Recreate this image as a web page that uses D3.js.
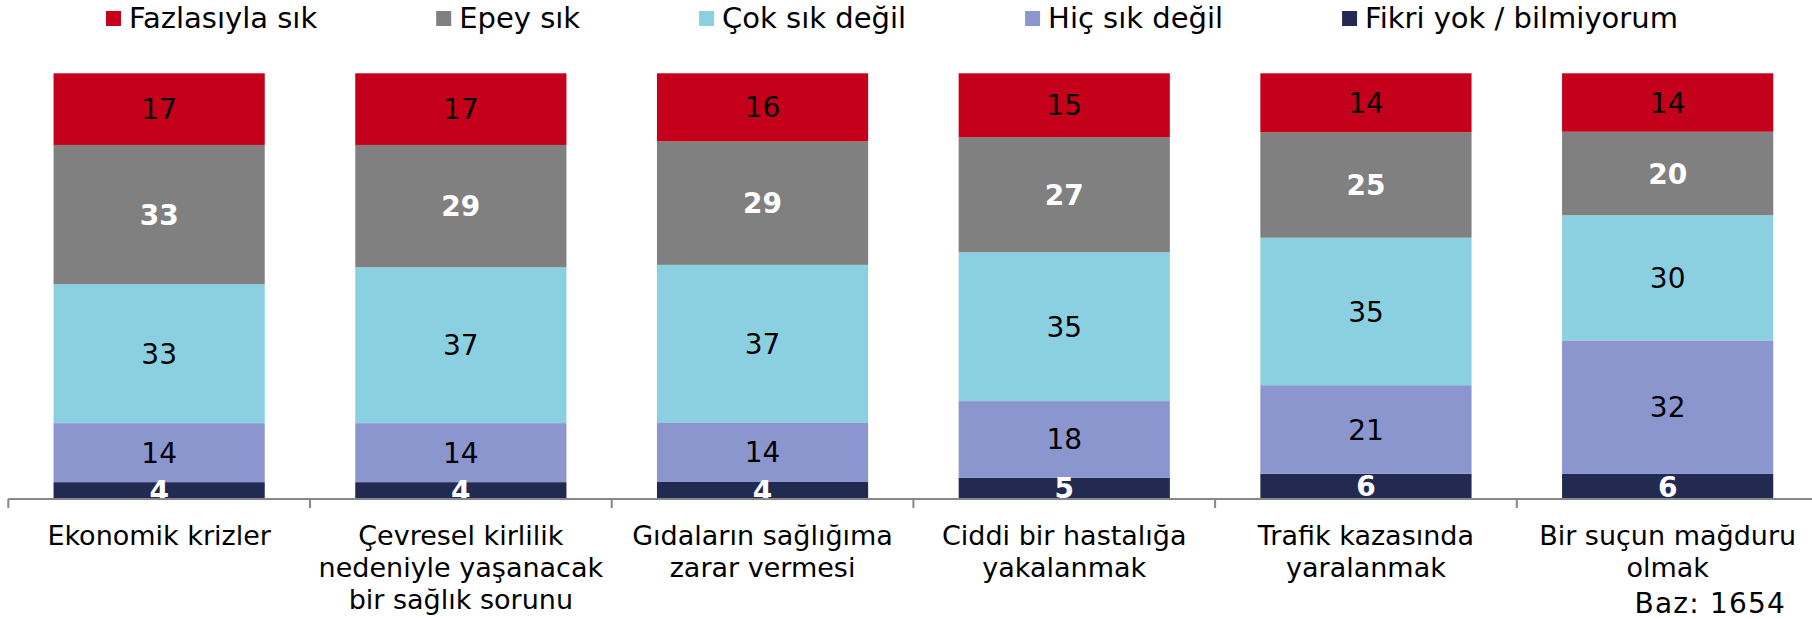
<!DOCTYPE html>
<html>
<head>
<meta charset="utf-8">
<script src="https://cdn.jsdelivr.net/npm/d3@7"></script>
<style>
  body { margin: 0; background: #fff; }
  svg { display: block; font-family: "DejaVu Sans", Verdana, sans-serif; }
</style>
</head>
<body>
<svg class="mainChart" width="1812" height="619"></svg>
<script>
// veriler
var categories = [
  ["Ekonomik krizler"],
  ["Çevresel kirlilik", "nedeniyle yaşanacak", "bir sağlık sorunu"],
  ["Gıdaların sağlığıma", "zarar vermesi"],
  ["Ciddi bir hastalığa", "yakalanmak"],
  ["Trafik kazasında", "yaralanmak"],
  ["Bir suçun mağduru", "olmak"]
];
var seriesNames = ["Fazlasıyla sık", "Epey sık", "Çok sık değil", "Hiç sık değil", "Fikri yok / bilmiyorum"];
var fazlasiyla = [17, 17, 16, 15, 14, 14];
var epey = [33, 29, 29, 27, 25, 20];
var cokDegil = [33, 37, 37, 35, 35, 30];
var hicDegil = [14, 14, 14, 18, 21, 32];
var fikriYok = [4, 4, 4, 5, 6, 6];
var colors = ["#c5001a", "#808080", "#8bd0e0", "#8b96ce", "#232a52"];
var labelColors = ["#000", "#fff", "#000", "#000", "#fff"];
var labelWeights = ["normal", "bold", "normal", "normal", "bold"];
var baseNote = "Baz: 1654";

var seriesValues = [fazlasiyla, epey, cokDegil, hicDegil, fikriYok];
// alttan üste yığılacak sıra
var stackKeys = [4, 3, 2, 1, 0];

var rows = categories.map(function(c, i){
  var r = {idx: i};
  seriesValues.forEach(function(arr, k){ r[k] = arr[i]; });
  return r;
});

var svg = d3.select(".mainChart");
var axisY = 499, topY = 73.3;

var x = d3.scaleBand()
          .domain(d3.range(categories.length))
          .range([8.3, 8.3 + 6 * 301.7])
          .paddingInner(0.3)
          .paddingOuter(0.15);

var y = d3.scaleLinear()
          .domain([0, 1])
          .range([axisY, topY]);

var stacked = d3.stack()
                .keys(stackKeys)
                .offset(d3.stackOffsetExpand)(rows);

svg.append("defs").append("clipPath")
   .attr("id", "plotClip")
   .append("rect")
   .attr("x", 0).attr("y", 0)
   .attr("width", 1812).attr("height", axisY);

var plot = svg.append("g").attr("clip-path", "url(#plotClip)");

stacked.forEach(function(layer){
  var k = layer.key;
  var g = plot.append("g").attr("class", "series s" + k);
  g.selectAll("rect")
   .data(layer)
   .enter().append("rect")
   .attr("x", function(d, i){ return x(i); })
   .attr("width", x.bandwidth())
   .attr("y", function(d){ return y(d[1]); })
   .attr("height", function(d){ return y(d[0]) - y(d[1]); })
   .attr("fill", colors[k]);
});

stacked.forEach(function(layer){
  var k = layer.key;
  plot.append("g").selectAll("text")
      .data(layer)
      .enter().append("text")
      .attr("x", function(d, i){ return x(i) + x.bandwidth() / 2; })
      .attr("y", function(d){ return (y(d[0]) + y(d[1])) / 2; })
      .attr("dy", "0.36em")
      .attr("text-anchor", "middle")
      .attr("font-size", 28)
      .attr("font-weight", labelWeights[k])
      .attr("fill", labelColors[k])
      .text(function(d){ return d.data[k]; });
});

// eksen
var axisScale = d3.scaleLinear().domain([0, categories.length]).range(x.range());
svg.append("line")
   .attr("x1", 8.3).attr("x2", 1812)
   .attr("y1", axisY).attr("y2", axisY)
   .attr("stroke", "#878787").attr("stroke-width", 2);

svg.append("g").selectAll("line")
   .data(d3.range(categories.length + 1))
   .enter().append("line")
   .attr("x1", function(d){ return axisScale(d); })
   .attr("x2", function(d){ return axisScale(d); })
   .attr("y1", axisY).attr("y2", axisY + 9)
   .attr("stroke", "#878787").attr("stroke-width", 2);

var catLabels = svg.append("g").selectAll("text")
   .data(categories)
   .enter().append("text")
   .attr("x", function(d, i){ return x(i) + x.bandwidth() / 2; })
   .attr("y", 545)
   .attr("text-anchor", "middle")
   .attr("font-size", 27)
   .attr("fill", "#000");

catLabels.selectAll("tspan")
   .data(function(d){ return d; })
   .enter().append("tspan")
   .attr("x", function(){ return d3.select(this.parentNode).attr("x"); })
   .attr("dy", function(d, i){ return i == 0 ? 0 : 32; })
   .text(function(d){ return d; });

svg.append("text")
   .attr("x", 1786).attr("y", 613)
   .attr("text-anchor", "end")
   .attr("font-size", 28)
   .attr("letter-spacing", 1.2)
   .attr("fill", "#000")
   .text(baseNote);

// lejant
var legend = svg.append("g").attr("class", "legend");
var lx = 106;
seriesNames.forEach(function(name, k){
  legend.append("rect")
        .attr("x", lx).attr("y", 11)
        .attr("width", 15).attr("height", 15)
        .attr("fill", colors[k]);
  var t = legend.append("text")
        .attr("x", lx + 23).attr("y", 28)
        .attr("font-size", 29)
        .attr("fill", "#000")
        .text(name);
  lx = lx + 23 + t.node().getComputedTextLength() + 119;
});
</script>
</body>
</html>
